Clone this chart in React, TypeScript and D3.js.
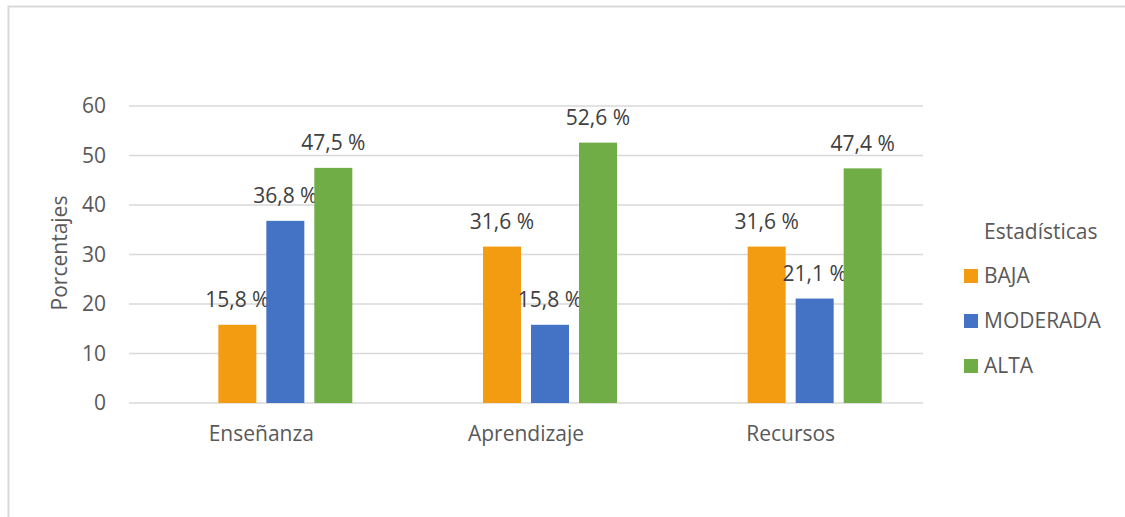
import React, { useRef, useEffect } from "react";
import * as d3 from "d3";

const categories = ["Enseñanza", "Aprendizaje", "Recursos"];
const seriesNames = ["BAJA", "MODERADA", "ALTA"];
const baja = [15.8, 31.6, 31.6];
const moderada = [36.8, 15.8, 21.1];
const alta = [47.5, 52.6, 47.4];
const seriesColors = ["#F39C12", "#4472C4", "#70AD47"];
const yTicks = [0, 10, 20, 30, 40, 50, 60];

const W = 1125;
const H = 517;

export default function App() {
  const svgRef = useRef<SVGSVGElement>(null);

  useEffect(() => {
    document.body.style.margin = "0";
    if (!svgRef.current) return;
    const svg = d3.select(svgRef.current);
    svg.selectAll("*").remove();

    const font = "'Open Sans', 'Noto Sans', sans-serif";
    const fs = 21;
    const plot = { left: 129, right: 923, top: 106, bottom: 403 };

    // chart frame (no right edge visible)
    svg.append("rect")
      .attr("x", 8.5).attr("y", 6.5)
      .attr("width", W + 20).attr("height", H + 20)
      .attr("fill", "#fff").attr("stroke", "#d9d9d9").attr("stroke-width", 2);

    const x0 = d3.scaleBand().domain(categories).range([plot.left, plot.right]);
    // the source chart has an empty first series slot, so bars sit right of centre
    const slots = ["_vacía", ...seriesNames];
    const x1 = d3.scaleBand().domain(slots)
      .range([0, 182]).paddingInner(10 / 48).paddingOuter(0);
    const y = d3.scaleLinear().domain([0, 60]).range([plot.bottom, plot.top]);

    const g = svg.append("g");

    // gridlines
    g.selectAll("line.grid").data(yTicks).enter().append("line")
      .attr("x1", plot.left).attr("x2", plot.right)
      .attr("y1", d => y(d)).attr("y2", d => y(d))
      .attr("stroke", "#d9d9d9").attr("stroke-width", 1.5);

    // y tick labels
    g.selectAll("text.ytick").data(yTicks).enter().append("text")
      .attr("x", 106).attr("y", d => y(d))
      .attr("dy", "0.35em").attr("text-anchor", "end")
      .attr("font-family", font).attr("font-size", fs).attr("fill", "#595959")
      .text(d => d);

    // axis title
    g.append("text")
      .attr("transform", `translate(60,253) rotate(-90)`)
      .attr("dy", "0.35em").attr("text-anchor", "middle")
      .attr("font-family", font).attr("font-size", fs).attr("fill", "#595959")
      .text("Porcentajes");

    // category labels
    g.selectAll("text.cat").data(categories).enter().append("text")
      .attr("x", d => x0(d)! + x0.bandwidth() / 2).attr("y", 434)
      .attr("dy", "0.35em").attr("text-anchor", "middle")
      .attr("font-family", font).attr("font-size", fs).attr("fill", "#595959")
      .text(d => d);

    const values = [baja, moderada, alta];
    const groupOffset = (x0.bandwidth() - 182) / 2;

    seriesNames.forEach((name, si) => {
      const data = categories.map((c, ci) => ({ c, v: values[si][ci] }));
      const bx = (c: string) => x0(c)! + groupOffset + x1(name)!;

      g.selectAll(`rect.s${si}`).data(data).enter().append("rect")
        .attr("x", d => bx(d.c)).attr("width", x1.bandwidth())
        .attr("y", d => y(d.v)).attr("height", d => y(0) - y(d.v))
        .attr("fill", seriesColors[si]);

      g.selectAll(`text.l${si}`).data(data).enter().append("text")
        .attr("x", d => bx(d.c) + x1.bandwidth() / 2)
        .attr("y", d => y(d.v) - 25)
        .attr("dy", "0.35em").attr("text-anchor", "middle")
        .attr("font-family", font).attr("font-size", fs).attr("fill", "#404040")
        .text(d => d.v.toFixed(1).replace(".", ",") + " %");
    });

    // legend
    const lg = svg.append("g");
    lg.append("text")
      .attr("x", 984).attr("y", 232).attr("dy", "0.35em")
      .attr("font-family", font).attr("font-size", fs).attr("fill", "#595959")
      .text("Estadísticas");

    seriesNames.forEach((name, i) => {
      const cy = 276 + i * 45;
      lg.append("rect")
        .attr("x", 964).attr("y", cy - 7).attr("width", 14).attr("height", 14)
        .attr("fill", seriesColors[i]);
      lg.append("text")
        .attr("x", 984).attr("y", cy).attr("dy", "0.35em")
        .attr("font-family", font).attr("font-size", fs).attr("fill", "#595959")
        .text(name);
    });
  }, []);

  return <svg ref={svgRef} width={W} height={H} style={{ display: "block" }} />;
}
